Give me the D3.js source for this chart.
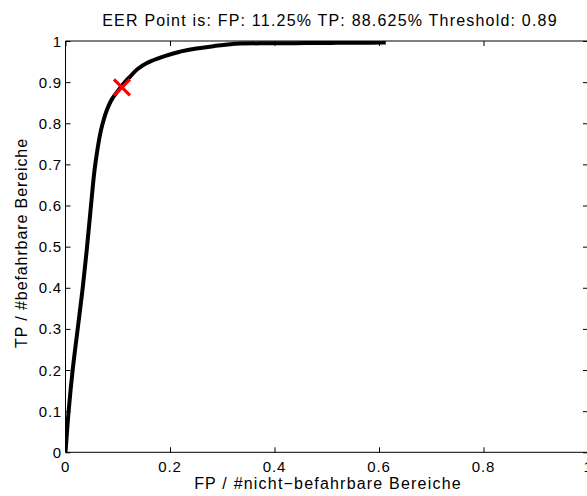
<!DOCTYPE html>
<html>
<head>
<meta charset="utf-8">
<script src="https://cdn.jsdelivr.net/npm/d3@7"></script>
<style>
  html, body { margin: 0; padding: 0; background: #fff; }
  svg { display: block; }
  text { font-family: "Liberation Sans", Arial, Helvetica, sans-serif; fill: #000; }
</style>
</head>
<body>
<svg id="chart" width="587" height="496"></svg>
<script>
// ---- data ----
const fpValues = [0, 0.006, 0.0137, 0.0233, 0.033, 0.0405, 0.0488, 0.057, 0.0712, 0.0785, 0.0895, 0.1058, 0.117, 0.1234, 0.138, 0.155, 0.187, 0.219, 0.251, 0.283, 0.315, 0.334, 0.40, 0.46, 0.52, 0.58, 0.613];
const tpValues = [0, 0.1, 0.2, 0.3, 0.4, 0.49, 0.6, 0.7, 0.8, 0.83, 0.86, 0.8874, 0.905, 0.913, 0.932, 0.946, 0.962, 0.974, 0.982, 0.9875, 0.992, 0.994, 0.9945, 0.995, 0.9955, 0.996, 0.9965];
const eerPoint = { fp: 0.108, tp: 0.8874 };
const xTicks = [0, 0.2, 0.4, 0.6, 0.8, 1];
const yTicks = [0, 0.1, 0.2, 0.3, 0.4, 0.5, 0.6, 0.7, 0.8, 0.9, 1];
const titleText = "EER Point is: FP: 11.25% TP: 88.625% Threshold: 0.89";
const xLabelText = "FP / #nicht\u2212befahrbare Bereiche";
const yLabelText = "TP / #befahrbare Bereiche";

// ---- layout ----
const svg = d3.select("#chart");
const pLeft = 65.5, pRight = 588, pTop = 41, pBottom = 452.3;
const x = d3.scaleLinear().domain([0, 1]).range([pLeft, pRight]);
const y = d3.scaleLinear().domain([0, 1]).range([pBottom, pTop]);
const tickLen = 5;

// clip
svg.append("defs").append("clipPath").attr("id", "clip")
  .append("rect").attr("x", pLeft).attr("y", pTop)
  .attr("width", pRight - pLeft).attr("height", pBottom - pTop);

// axes box
const axisColor = "#000";
const box = svg.append("g").attr("stroke", axisColor).attr("stroke-width", 1).attr("fill", "none");
box.append("line").attr("x1", pLeft).attr("x2", pRight).attr("y1", pBottom).attr("y2", pBottom);
box.append("line").attr("x1", pLeft).attr("x2", pRight).attr("y1", pTop).attr("y2", pTop);
box.append("line").attr("x1", pLeft).attr("x2", pLeft).attr("y1", pTop).attr("y2", pBottom);
box.append("line").attr("x1", pRight).attr("x2", pRight).attr("y1", pTop).attr("y2", pBottom);

// ticks using d3 axes (inward ticks)
const fmt = d => d === 0 ? "0" : d === 1 ? "1" : d3.format(".1f")(d);
const xAxisB = d3.axisTop(x).tickValues(xTicks).tickSize(tickLen).tickFormat("");
const xAxisT = d3.axisBottom(x).tickValues(xTicks).tickSize(tickLen).tickFormat("");
const yAxisL = d3.axisRight(y).tickValues(yTicks).tickSize(tickLen).tickFormat("");
const yAxisR = d3.axisLeft(y).tickValues(yTicks).tickSize(tickLen).tickFormat("");
[[xAxisB, `translate(0,${pBottom})`], [xAxisT, `translate(0,${pTop})`],
 [yAxisL, `translate(${pLeft},0)`], [yAxisR, `translate(${pRight},0)`]].forEach(([ax, tr]) => {
  const g = svg.append("g").attr("transform", tr).call(ax);
  g.select(".domain").remove();
  g.selectAll("line").attr("stroke", axisColor);
});

// tick labels
svg.append("g").selectAll("text").data(xTicks).join("text")
  .attr("x", d => x(d)).attr("y", pBottom + 19.5)
  .attr("text-anchor", "middle").attr("font-size", 15).style("letter-spacing", "0.8px")
  .text(fmt);
svg.append("g").selectAll("text").data(yTicks).join("text")
  .attr("x", pLeft - 3.5).attr("y", d => y(d) + 5.5)
  .attr("text-anchor", "end").attr("font-size", 15).style("letter-spacing", "0.8px")
  .text(fmt);

// curve
const pts = fpValues.map((f, i) => [f, tpValues[i]]);
svg.append("path").datum(pts)
  .attr("clip-path", "url(#clip)")
  .attr("fill", "none").attr("stroke", "#000").attr("stroke-width", 4)
  .attr("stroke-linejoin", "round")
  .attr("d", d3.line().x(d => x(d[0])).y(d => y(d[1])).curve(d3.curveMonotoneY));

// EER marker
const mx = x(eerPoint.fp), my = y(eerPoint.tp), ms = 8;
const mg = svg.append("g").attr("stroke", "#ff0000").attr("stroke-width", 3.2);
mg.append("line").attr("x1", mx - ms).attr("y1", my - ms).attr("x2", mx + ms).attr("y2", my + ms);
mg.append("line").attr("x1", mx - ms).attr("y1", my + ms).attr("x2", mx + ms).attr("y2", my - ms);

// title and labels
svg.append("text").attr("x", 330).attr("y", 26).attr("text-anchor", "middle")
  .attr("font-size", 16).style("letter-spacing", "1.2px").text(titleText);
svg.append("text").attr("x", 328).attr("y", 489).attr("text-anchor", "middle")
  .attr("font-size", 16).style("letter-spacing", "1.2px").text(xLabelText);
svg.append("text").attr("transform", "translate(27,243) rotate(-90)").attr("text-anchor", "middle")
  .attr("font-size", 16).style("letter-spacing", "0.9px").text(yLabelText);
</script>
</body>
</html>
